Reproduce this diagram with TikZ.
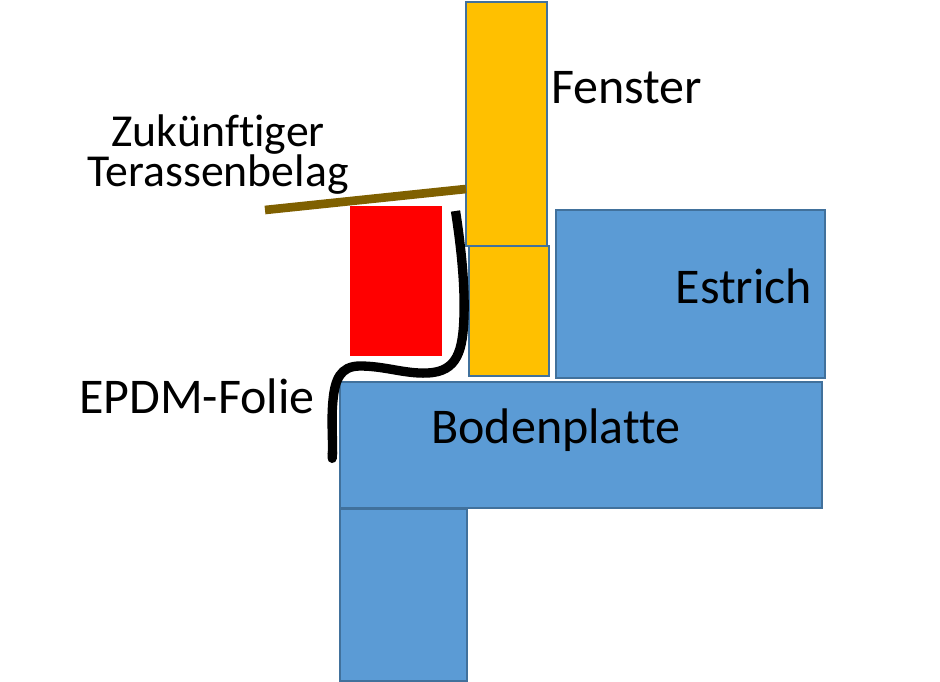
\documentclass[tikz,border=0pt]{standalone}
\usepackage{fontspec}
\setmainfont[Ligatures=NoCommon]{Carlito}
\usetikzlibrary{arrows.meta}
\definecolor{bluefill}{HTML}{5B9BD5}
\definecolor{blueline}{HTML}{41719C}
\definecolor{goldfill}{HTML}{FFC000}
\definecolor{brownbar}{HTML}{7F6000}
\tikzset{
  block/.style={draw=blueline,line width=1.6pt,fill=bluefill,inner sep=0pt,anchor=north west},
  window/.style={block,fill=goldfill},
  label/.style={inner sep=0pt,font=\fontsize{37.5}{39}\selectfont,text=black}
}
\begin{document}
\begin{tikzpicture}[x=0.75pt,y=-0.75pt]
  \useasboundingbox (0,0) rectangle (940,682);
  \node[block,minimum width=95pt,minimum height=129.5pt] (pillar) at (339,507.5) {};
  \node[block,minimum width=361.5pt,minimum height=94.5pt] (bodenplatte) at (339,381) {};
  \node[block,minimum width=202pt,minimum height=126pt] (estrich) at (554.5,208.5) {};
  \node[window,minimum width=61pt,minimum height=183.5pt] (fenster) at (465,0.5) {};
  \node[window,minimum width=60pt,minimum height=97.5pt] (sockel) at (467.5,244.5) {};
  \node[fill=red,inner sep=0pt,anchor=north west,minimum width=69pt,minimum height=112.5pt] (daemmung) at (350,206) {};
  \coordinate (belagL) at (265,210);
  \coordinate (belagR) at (466,189);
  \draw[brownbar,line width=6.5pt] (belagL) -- (belagR);
  \coordinate (folieA) at (455.5,211);
  \coordinate (folieB) at (332,463);
  \draw[black,line width=7pt,-{Round Cap[]}] (folieA)
    .. controls (460,240) and (465,280) .. (464,315)
    .. controls (463,350) and (458,372) .. (427,373)
    .. controls (405,374) and (385,366) .. (360,366)
    .. controls (340,366) and (335,380) .. (333,400)
    .. controls (331,420) and (333,440) .. (folieB);
  \node[label] (lblFenster) at (626.5,88) {Fenster};
  \node[label] (lblEstrich) at (744,286) {Estrich};
  \node[label] (lblBoden) at (556,430) {Bodenplatte};
  \node[label] (lblFolie) at (197,396) {EPDM-Folie};
  \node[label,align=center,font=\fontsize{34.3}{30}\selectfont] (lblBelag) at (218,155) {Zukünftiger\\Terassenbelag};
\end{tikzpicture}
\end{document}
